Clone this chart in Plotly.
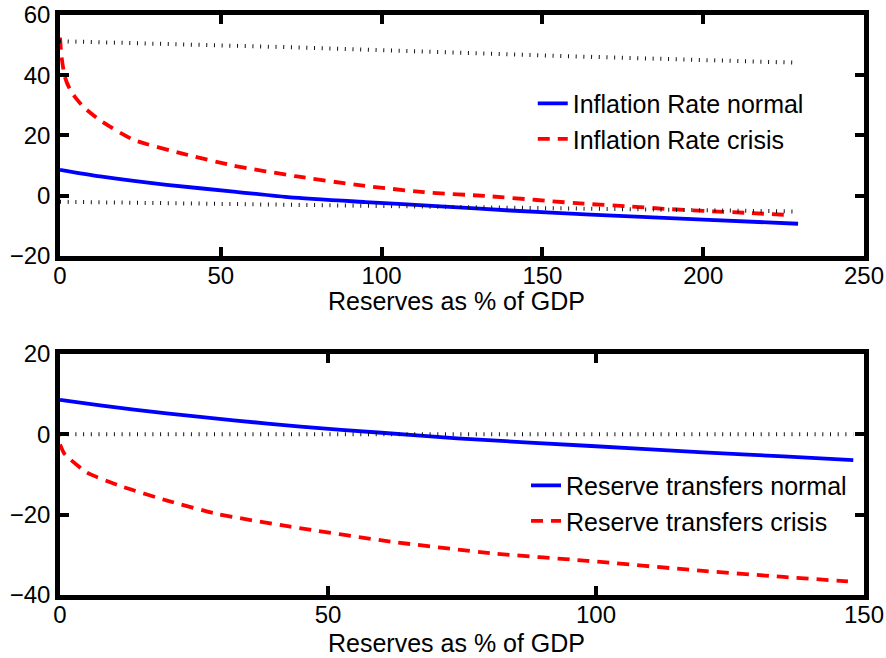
import plotly.graph_objects as go

# Upper panel: inflation rate against reserves (% of GDP)
infl_normal_x = [0, 12.5, 33.2, 54, 71.6, 95, 118.3, 140, 165, 200, 229.5]
infl_normal_y = [8.6, 6.4, 3.6, 1.4, -0.55, -2.1, -3.5, -4.9, -6.3, -7.9, -9.3]

infl_crisis_x = [0, 0.5, 1.5, 3, 5, 7.3, 12.5, 22.8, 38.4, 54, 73.7, 92.4, 113.1,
                 133.9, 162.9, 176.4, 188.9, 201.3, 213.8, 226.7]
infl_crisis_y = [52.5, 46, 39.5, 35.5, 32.3, 29.5, 25, 18.6, 13.9, 10.0, 6.4, 3.6, 1.2,
                 -0.2, -2.65, -3.5, -4.4, -5.1, -5.7, -6.4]

band_x = [0, 75, 162, 228]
band_upper = [51.3, 49.2, 46.2, 44.2]
band_lower = [-2.0, -3.0, -4.4, -5.2]

# Lower panel: reserve transfers against reserves (% of GDP)
transf_normal_x = [0, 7.5, 19.9, 32.4, 44.9, 60, 74.1, 99.1, 120, 135, 148]
transf_normal_y = [8.6, 7.2, 5.2, 3.5, 1.9, 0.4, -1.0, -2.9, -4.5, -5.5, -6.4]

transf_crisis_x = [0, 0.8, 1.9, 5, 11.8, 20, 29.3, 43, 61.7, 80.4, 98.4, 120, 135, 147]
transf_crisis_y = [-2.5, -4.8, -6.2, -9.5, -13.1, -16.5, -19.8, -23.0, -26.7, -29.6,
                   -31.5, -34.0, -35.5, -36.6]

zero_x = [0, 148]
zero_y = [0, 0]

x_label = "Reserves as % of GDP"

FONT = "Liberation Sans, Arial, Helvetica, sans-serif"
BLUE = "#0000ff"
RED = "#ff0000"
DOT = dict(color="#111111", width=4, dash="1px,6.7px")
LW = 3.8

fig = go.Figure()

fig.add_trace(go.Scatter(x=infl_normal_x, y=infl_normal_y, mode="lines",
                         line=dict(color=BLUE, width=LW, shape="spline", smoothing=0.6),
                         name="Inflation Rate normal", legend="legend",
                         xaxis="x", yaxis="y"))
fig.add_trace(go.Scatter(x=infl_crisis_x, y=infl_crisis_y, mode="lines",
                         line=dict(color=RED, width=LW, dash="12px,8px",
                                   shape="spline", smoothing=0.6),
                         name="Inflation Rate crisis", legend="legend",
                         xaxis="x", yaxis="y"))
fig.add_trace(go.Scatter(x=band_x, y=band_upper, mode="lines", line=DOT,
                         showlegend=False, xaxis="x", yaxis="y"))
fig.add_trace(go.Scatter(x=band_x, y=band_lower, mode="lines", line=DOT,
                         showlegend=False, xaxis="x", yaxis="y"))

fig.add_trace(go.Scatter(x=transf_normal_x, y=transf_normal_y, mode="lines",
                         line=dict(color=BLUE, width=LW, shape="spline", smoothing=0.6),
                         name="Reserve transfers normal", legend="legend2",
                         xaxis="x2", yaxis="y2"))
fig.add_trace(go.Scatter(x=transf_crisis_x, y=transf_crisis_y, mode="lines",
                         line=dict(color=RED, width=LW, dash="12px,8px",
                                   shape="spline", smoothing=0.6),
                         name="Reserve transfers crisis", legend="legend2",
                         xaxis="x2", yaxis="y2"))
fig.add_trace(go.Scatter(x=zero_x, y=zero_y, mode="lines", line=DOT,
                         showlegend=False, xaxis="x2", yaxis="y2"))

axis_common = dict(showline=True, linecolor="black", linewidth=4.5, mirror="ticks",
                   ticks="inside", ticklen=9, tickwidth=4, tickcolor="black",
                   showgrid=False, zeroline=False, automargin=False,
                   tickfont=dict(family=FONT, size=24, color="black"))

fig.update_layout(
    width=886, height=658,
    margin=dict(l=60, r=22, t=15, b=63, autoexpand=False),
    paper_bgcolor="white", plot_bgcolor="white",
    font=dict(family=FONT, color="black"),
    xaxis=dict(axis_common, range=[0, 250], tickvals=[0, 50, 100, 150, 200, 250],
               domain=[0, 1], anchor="y", ticklabelstandoff=-6),
    yaxis=dict(axis_common, range=[-20, 60], tickvals=[-20, 0, 20, 40, 60],
               domain=[0.5845, 1], anchor="x"),
    xaxis2=dict(axis_common, range=[0, 150], tickvals=[0, 50, 100, 150],
                domain=[0, 1], anchor="y2", ticklabelstandoff=-6),
    yaxis2=dict(axis_common, range=[-40, 20], tickvals=[-40, -20, 0, 20],
                domain=[0, 0.4155], anchor="x2"),
    legend=dict(x=0.588, y=0.887, xanchor="left", yanchor="top",
                bgcolor="rgba(0,0,0,0)", borderwidth=0,
                font=dict(family=FONT, size=25, color="black")),
    legend2=dict(x=0.5796, y=0.2284, xanchor="left", yanchor="top",
                 bgcolor="rgba(0,0,0,0)", borderwidth=0,
                 font=dict(family=FONT, size=25, color="black")),
)

# Axis titles sit tight under the tick labels
for ypos in (0.5066, -0.0828):
    fig.add_annotation(text=x_label, xref="paper", yref="paper", x=0.493, y=ypos,
                       xanchor="center", yanchor="middle", showarrow=False,
                       font=dict(family=FONT, size=25, color="black"))

fig.write_html("out.html")
